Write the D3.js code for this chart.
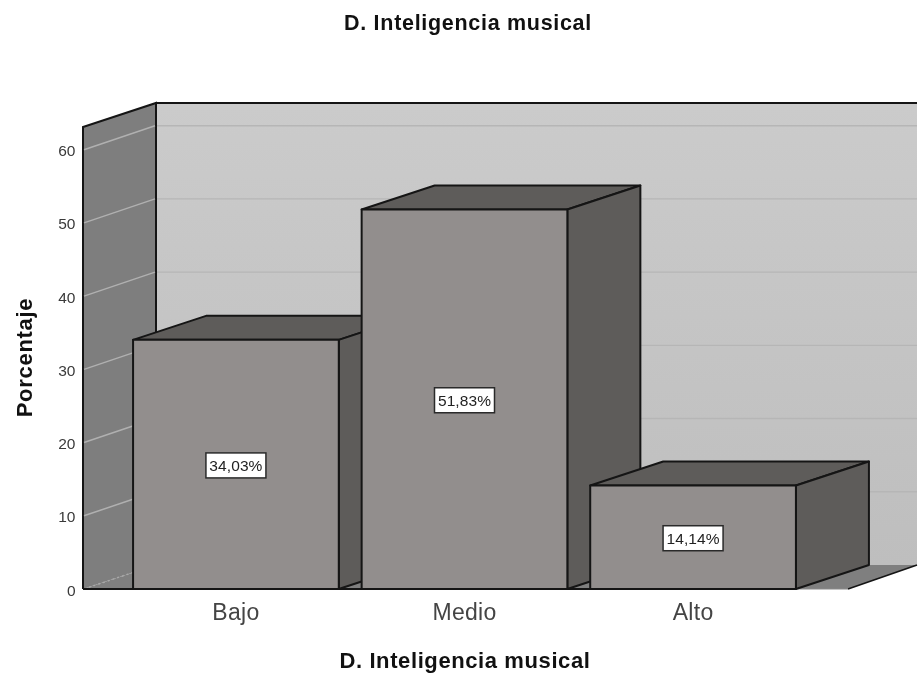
<!DOCTYPE html>
<html><head><meta charset="utf-8">
<script src="https://cdn.jsdelivr.net/npm/d3@7"></script>
<style>html,body{margin:0;padding:0;background:#fff}svg{display:block;filter:blur(0.35px)}text{font-family:"Liberation Sans",Arial,sans-serif}</style>
</head><body><svg id="c" width="919" height="675"></svg>
<script>
const titleText = "D. Inteligencia musical";
const yTitle = "Porcentaje";
const categories = ["Bajo","Medio","Alto"];
const values = [34.03,51.83,14.14];
const labels = ["34,03%","51,83%","14,14%"];
const yTicks = [0,10,20,30,40,50,60];

const svg = d3.select("#c");
const dx = 73, dy = -24;
const y = d3.scaleLinear().domain([0,63.1]).range([589,127]);
const x = d3.scaleBand().domain(categories).range([120.5,808.5]).paddingInner(0.1).paddingOuter(0.055);
const xL = 83, xR = 845;
const ink = "#151515";
const line = d3.line();
const poly = (pts,fill,sw=2,stroke=ink)=>svg.append("path").attr("d",line(pts)+"Z")
  .attr("fill",fill).attr("stroke",stroke).attr("stroke-width",sw).attr("stroke-linejoin","round");
const open = (pts,stroke=ink,sw=2)=>svg.append("path").attr("d",line(pts)).attr("fill","none")
  .attr("stroke",stroke).attr("stroke-width",sw);

const defs = svg.append("defs");
const g = defs.append("linearGradient").attr("id","wall").attr("x1",0).attr("x2",0).attr("y1",0).attr("y2",1);
g.append("stop").attr("offset",0).attr("stop-color","#cbcbcb");
g.append("stop").attr("offset",1).attr("stop-color","#bebebe");

// back wall
svg.append("rect").attr("x",xL+dx).attr("y",y(63.1)+dy).attr("width",xR-xL-1).attr("height",y(0)-y(63.1))
  .attr("fill","url(#wall)");
open([[xL+dx,y(0)+dy],[xL+dx,y(63.1)+dy],[xR+dx-1,y(63.1)+dy]]);
// floor
svg.append("path").attr("d",line([[xL,y(0)],[xL+dx,y(0)+dy],[xR+dx-1,y(0)+dy],[xR+3,y(0)]])+"Z").attr("fill","#7f7f7f");
open([[xR+3,y(0)],[xR+dx-1,y(0)+dy]],ink,1.6);
open([[xL,y(0)],[xR+3,y(0)]],"#8a8a8a",1.2);
// back gridlines
yTicks.slice(1).forEach(t=>{
  svg.append("line").attr("x1",xL+dx).attr("x2",xR+dx-1).attr("y1",y(t)+dy).attr("y2",y(t)+dy)
    .attr("stroke","#b6b6b6").attr("stroke-width",1.4);
});
// left wall
svg.append("path").attr("d",line([[xL,y(0)],[xL,y(63.1)],[xL+dx,y(63.1)+dy],[xL+dx,y(0)+dy]])+"Z").attr("fill","#7e7e7e");
open([[xL,y(0)],[xL,y(63.1)],[xL+dx,y(63.1)+dy],[xL+dx,y(0)+dy]]);
yTicks.forEach(t=>{
  const l = svg.append("line").attr("x1",xL+1).attr("x2",xL+dx-1).attr("y1",y(t)).attr("y2",y(t)+dy)
    .attr("stroke",t===0?"#a8a8a8":"#b0b0b0").attr("stroke-width",1.5);
  if(t===0) l.attr("stroke-dasharray","2 3");
});
const lastBarRight = x(categories[2])+x.bandwidth();
open([[xL,y(0)],[lastBarRight,y(0)]]);
// bars
categories.forEach((c,i)=>{
  const x0=x(c),x1=x0+x.bandwidth(),yt=y(values[i]),yb=y(0);
  poly([[x0,yt],[x0+dx,yt+dy],[x1+dx,yt+dy],[x1,yt]],"#5e5c5a");
  poly([[x1,yt],[x1+dx,yt+dy],[x1+dx,yb+dy],[x1,yb]],"#5e5c5a");
  poly([[x0,yt],[x1,yt],[x1,yb],[x0,yb]],"#928e8d");
});
// value labels
categories.forEach((c,i)=>{
  const cx=x(c)+x.bandwidth()/2, cy=y(values[i]/2)+1;
  svg.append("rect").attr("x",cx-30).attr("y",cy-12.5).attr("width",60).attr("height",25).attr("fill","#fff").attr("stroke","#2a2a2a").attr("stroke-width",1.5);
  svg.append("text").attr("x",cx).attr("y",cy+6).attr("text-anchor","middle").attr("font-size",15.5).attr("letter-spacing",0.1).attr("fill","#222").text(labels[i]);
});
// y axis labels
yTicks.forEach(t=>{
  svg.append("text").attr("x",75.5).attr("y",y(t)+6.5).attr("text-anchor","end").attr("font-size",15.5).attr("fill","#3a3a3a").text(t);
});
// x axis labels
categories.forEach(c=>{
  svg.append("text").attr("x",x(c)+x.bandwidth()/2).attr("y",620).attr("text-anchor","middle").attr("font-size",23).attr("letter-spacing",0.3).attr("fill","#444").text(c);
});
// titles
svg.append("text").attr("x",468).attr("y",30).attr("text-anchor","middle").attr("font-size",21.5).attr("letter-spacing",0.7).attr("font-weight","bold").attr("fill","#111").text(titleText);
svg.append("text").attr("x",465).attr("y",668).attr("text-anchor","middle").attr("font-size",22).attr("letter-spacing",0.6).attr("font-weight","bold").attr("fill","#111").text(titleText);
svg.append("text").attr("transform","translate(32,357.5) rotate(-90)").attr("text-anchor","middle").attr("font-size",22).attr("letter-spacing",0.7).attr("font-weight","bold").attr("fill","#111").text(yTitle);
</script></body></html>
